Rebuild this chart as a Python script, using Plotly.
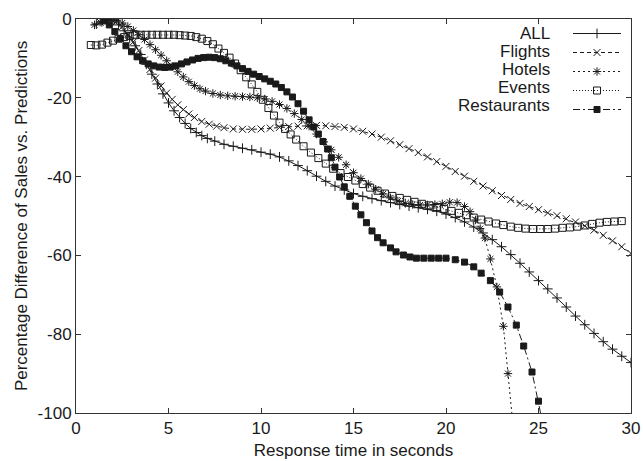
import plotly.graph_objects as go

# ---------------- data ----------------
all_x = [1.1, 1.4, 1.7, 2.0, 2.3, 2.6, 2.9, 3.2, 3.5, 3.8, 4.1, 4.4, 4.7, 5.0, 5.3, 5.6, 5.9, 6.2,
         6.5, 6.8, 7.1, 7.5, 8.0, 8.5, 9.0, 9.5, 10.0, 10.5, 11.0, 11.5, 12.0, 12.5, 13.0, 13.5,
         14.0, 14.5, 15.0, 15.5, 16.0, 16.5, 17.0, 17.5, 18.0, 18.5, 19.0, 19.5, 20.0, 20.5, 21.0,
         21.5, 22.0, 22.5, 23.0, 23.5, 24.0, 24.5, 25.0, 25.5, 26.0, 26.5, 27.0, 27.5, 28.0, 28.5,
         29.0, 29.5, 30.0]
all_y = [-1.3, -0.7, -0.3, -0.5, -1.5, -3.0, -4.8, -6.8, -9.0, -11.5, -14.0, -16.5, -19.0, -21.3,
         -23.3, -25.0, -26.5, -27.8, -28.8, -29.6, -30.3, -31.0, -31.8, -32.3, -32.8, -33.2, -33.8,
         -34.3, -35.0, -36.0, -37.2, -38.5, -39.9, -41.2, -42.4, -43.4, -44.3, -45.0, -45.6, -46.1,
         -46.6, -47.1, -47.5, -47.9, -48.3, -48.8, -49.5, -50.4, -51.5, -52.8, -54.3, -56.0, -57.8,
         -59.8, -62.0, -64.2, -66.4, -68.5, -70.8, -73.1, -75.4, -77.6, -79.8, -81.9, -83.8, -85.6,
         -87.2]

flights_x = [1.3, 1.6, 1.9, 2.2, 2.5, 2.8, 3.1, 3.4, 3.7, 4.0, 4.3, 4.6, 4.9, 5.2, 5.5, 5.8, 6.1,
             6.4, 6.8, 7.2, 7.6, 8.0, 8.5, 9.0, 9.5, 10.0, 10.5, 11.0, 11.5, 12.0, 12.5, 13.0, 13.5,
             14.0, 14.5, 15.0, 15.5, 16.0, 16.5, 17.0, 17.5, 18.0, 18.5, 19.0, 19.5, 20.0, 20.5,
             21.0, 21.5, 22.0, 22.5, 23.0, 23.5, 24.0, 24.5, 25.0, 25.5, 26.0, 26.5, 27.0, 27.5,
             28.0, 28.5, 29.0, 29.5, 30.0]
flights_y = [-0.8, -0.2, 0.0, -0.6, -2.0, -3.8, -5.8, -8.0, -10.4, -12.8, -15.0, -17.0, -18.8,
             -20.4, -21.8, -23.0, -24.1, -25.0, -26.0, -26.7, -27.2, -27.6, -27.9, -28.0, -28.0,
             -27.9, -27.7, -27.5, -27.3, -27.2, -27.1, -27.0, -27.1, -27.3, -27.5, -27.9, -28.5,
             -29.2, -30.0, -30.9, -31.9, -32.9, -33.9, -35.0, -36.2, -37.4, -38.7, -39.9, -41.2,
             -42.4, -43.6, -44.8, -45.8, -46.8, -47.6, -48.4, -49.2, -49.9, -50.7, -51.5, -52.5,
             -53.6, -54.9, -56.3, -57.8, -59.5]

hotels_x = [1.0, 1.3, 1.6, 1.9, 2.2, 2.5, 2.8, 3.1, 3.4, 3.7, 4.0, 4.3, 4.6, 4.9, 5.2, 5.5, 5.8,
            6.1, 6.4, 6.7, 7.0, 7.4, 7.8, 8.2, 8.6, 9.0, 9.4, 9.8, 10.2, 10.6, 11.0, 11.4, 11.8,
            12.2, 12.6, 13.0, 13.4, 13.8, 14.2, 14.6, 15.0, 15.4, 15.8, 16.2, 16.6, 17.0, 17.4,
            17.8, 18.2, 18.6, 19.0, 19.4, 19.8, 20.2, 20.6, 21.0, 21.3, 21.6, 21.85, 22.1, 22.4,
            22.75, 23.1, 23.35, 23.6]
hotels_y = [-1.5, -0.8, -0.2, 0.0, -0.3, -1.0, -1.9, -2.9, -4.0, -5.2, -6.5, -7.8, -9.2, -10.6,
            -12.0, -13.4, -14.7, -15.9, -16.9, -17.7, -18.3, -18.9, -19.3, -19.5, -19.6, -19.7,
            -19.8, -20.0, -20.3, -20.9, -21.7, -22.7, -24.0, -25.5, -27.2, -29.2, -31.2, -33.2,
            -35.1, -37.0, -39.0, -40.5, -41.9, -43.2, -44.4, -45.4, -46.2, -46.8, -47.1, -47.2,
            -47.2, -47.1, -46.9, -46.5, -46.6, -47.6, -48.9, -51.0, -53.2, -55.6, -60.9, -68.0,
            -78.0, -90.0, -102.0]

events_x = [0.8, 1.1, 1.4, 1.7, 2.0, 2.3, 2.6, 2.9, 3.2, 3.5, 3.8, 4.1, 4.4, 4.7, 5.0, 5.3, 5.6,
            5.9, 6.2, 6.5, 6.8, 7.1, 7.4, 7.7, 8.0, 8.3, 8.6, 8.9, 9.2, 9.5, 9.8, 10.1, 10.4, 10.7,
            11.0, 11.3, 11.6, 11.9, 12.3, 12.7, 13.1, 13.5, 13.9, 14.3, 14.7, 15.1, 15.5, 15.9,
            16.3, 16.7, 17.1, 17.5, 17.9, 18.3, 18.7, 19.1, 19.5, 19.9, 20.3, 20.7, 21.1, 21.5,
            21.9, 22.3, 22.7, 23.1, 23.5, 23.9, 24.3, 24.7, 25.1, 25.5, 25.9, 26.3, 26.7, 27.1,
            27.5, 27.9, 28.3, 28.7, 29.1, 29.5]
events_y = [-6.6, -6.7, -6.5, -6.0, -5.5, -5.0, -4.6, -4.3, -4.1, -4.0, -4.0, -4.0, -4.0, -4.0,
            -4.0, -4.0, -4.1, -4.2, -4.3, -4.6, -5.0, -5.6, -6.4, -7.5, -8.6, -9.8, -11.3, -13.0,
            -14.8, -16.6, -18.5, -20.5, -22.6, -24.5, -26.3, -27.9, -29.3, -30.6, -32.3, -33.9,
            -35.3, -36.7, -38.0, -39.1, -40.1, -41.0, -41.9, -42.8, -43.6, -44.3, -44.9, -45.4,
            -45.9, -46.4, -46.9, -47.3, -47.7, -48.2, -48.7, -49.2, -49.8, -50.4, -50.9, -51.4,
            -51.9, -52.3, -52.7, -53.0, -53.2, -53.3, -53.3, -53.3, -53.2, -53.0, -52.9, -52.7,
            -52.4, -52.0, -51.7, -51.5, -51.4, -51.3]

rest_x = [1.5, 1.8, 2.1, 2.4, 2.7, 3.0, 3.3, 3.6, 3.9, 4.2, 4.5, 4.8, 5.1, 5.4, 5.7, 6.0, 6.3, 6.6,
          6.9, 7.2, 7.5, 7.8, 8.1, 8.4, 8.7, 9.0, 9.3, 9.6, 9.9, 10.2, 10.5, 10.8, 11.1, 11.4, 11.7,
          12.0, 12.3, 12.6, 12.85, 13.1, 13.35, 13.6, 13.8, 14.0, 14.25, 14.5, 14.8, 15.1, 15.4,
          15.7, 16.0, 16.3, 16.6, 17.0, 17.3, 17.7, 18.05, 18.4, 18.8, 19.2, 19.6, 20.0, 20.5,
          21.0, 21.5, 21.9, 22.4, 22.9, 23.35, 23.8, 24.2, 24.65, 25.0, 25.2]
rest_y = [-0.5, -1.5, -3.2, -5.0, -6.8, -8.3, -9.6, -10.6, -11.4, -11.9, -12.2, -12.3, -12.2,
          -11.9, -11.4, -10.9, -10.4, -10.0, -9.8, -9.7, -9.8, -10.1, -10.6, -11.2, -11.9, -12.6,
          -13.3, -14.0, -14.6, -15.2, -15.8, -16.5, -17.4, -18.5, -19.8, -21.5, -23.4, -25.6,
          -27.4, -29.2, -31.1, -33.0, -35.2, -37.6, -40.1, -42.6, -45.0, -47.5, -49.7, -51.7,
          -53.8, -55.5, -56.8, -58.1, -59.1, -59.9, -60.4, -60.7, -60.7, -60.7, -60.7, -60.7,
          -61.1, -61.7, -62.9, -64.5, -66.4, -69.3, -73.1, -77.7, -83.0, -89.6, -97.0, -102.0]

series_names = ["ALL", "Flights", "Hotels", "Events", "Restaurants"]
x_ticks = [0, 5, 10, 15, 20, 25, 30]
y_ticks = [0, -20, -40, -60, -80, -100]
y_tick_labels = ["0", "-20", "-40", "-60", "-80", "-100"]

# ---------------- styles ----------------
FONT = "Liberation Sans, Arial, Helvetica, sans-serif"
INK = "#1a1a1a"
styles = [
    dict(dash="solid", symbol="cross-thin", size=7),
    dict(dash="4px,3px", symbol="x-thin", size=7),
    dict(dash="2px,3px", symbol="asterisk", size=7),
    dict(dash="1px,2px", symbol="square-open", size=7),
    dict(dash="7px,3px,2px,3px", symbol="square", size=6),
]
data = [(all_x, all_y), (flights_x, flights_y), (hotels_x, hotels_y),
        (events_x, events_y), (rest_x, rest_y)]

fig = go.Figure()
for (xs, ys), name, st in zip(data, series_names, styles):
    fig.add_trace(go.Scatter(
        x=xs, y=ys, mode="lines+markers", name="",
        line=dict(color=INK, width=1, dash=st["dash"]),
        marker=dict(symbol=st["symbol"], size=st["size"], color=INK,
                    line=dict(color=INK, width=1)),
        showlegend=True,
    ))

# legend text drawn to the left of the key samples (gnuplot style)
legend_rows_y = [0.963, 0.918, 0.872, 0.826, 0.781]
for name, yy in zip(series_names, legend_rows_y):
    fig.add_annotation(x=0.857, y=yy, xref="paper", yref="paper", text=name,
                       showarrow=False, xanchor="right", yanchor="middle",
                       font=dict(family=FONT, size=17, color=INK))

axis_common = dict(showline=True, linecolor="#333", linewidth=1, mirror="ticks",
                   ticks="inside", ticklen=5, tickcolor="#333", showgrid=False,
                   zeroline=False, automargin=False,
                   tickfont=dict(family=FONT, size=17, color=INK))

fig.update_layout(
    width=643, height=461,
    margin=dict(l=76, r=12, t=19, b=48),
    plot_bgcolor="white", paper_bgcolor="white",
    font=dict(family=FONT, size=17, color=INK),
    xaxis=dict(range=[0, 30], tickvals=x_ticks,
               title=dict(text="Response time in seconds", standoff=6,
                          font=dict(family=FONT, size=17, color=INK)),
               **axis_common),
    yaxis=dict(range=[-100, 0], tickvals=y_ticks, ticktext=y_tick_labels,
               title=dict(text="Percentage Difference of Sales vs. Predictions", standoff=5,
                          font=dict(family=FONT, size=17, color=INK)),
               **axis_common),
    legend=dict(x=1.0, y=1.0, xanchor="right", yanchor="top",
                bgcolor="rgba(0,0,0,0)", font=dict(family=FONT, size=11.5),
                itemwidth=48, tracegroupgap=0),
)

fig.write_html("out.html")
